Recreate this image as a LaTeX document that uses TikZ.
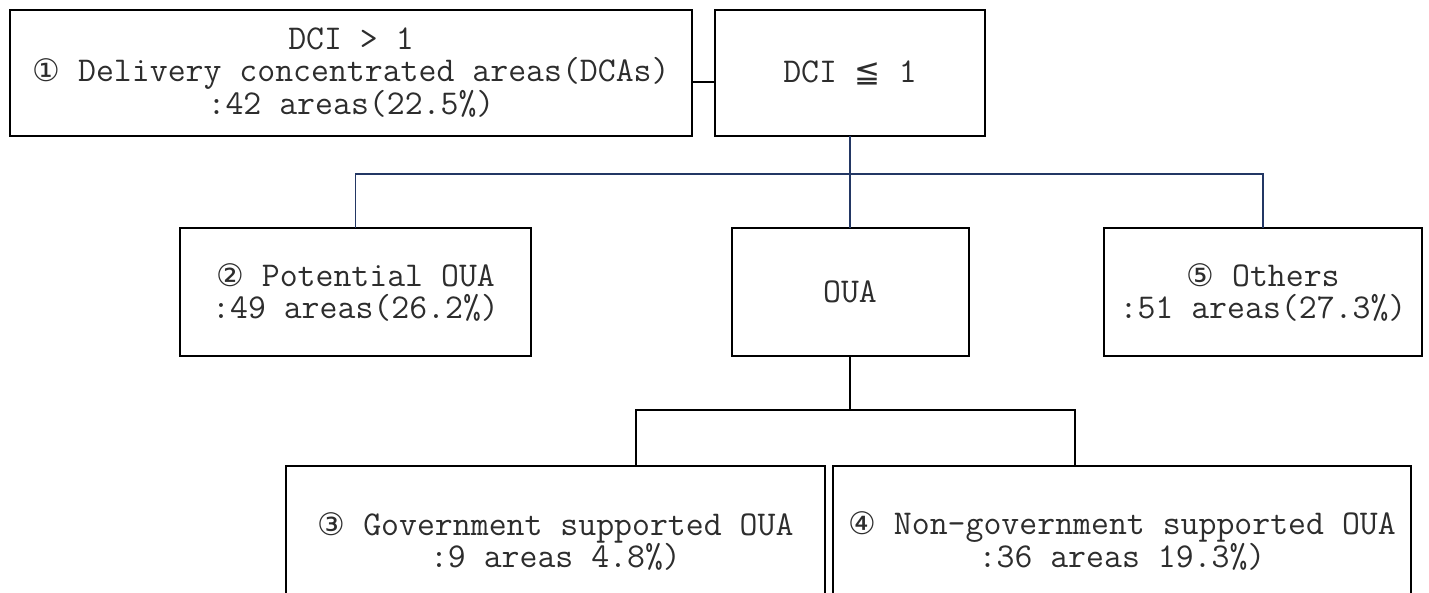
\documentclass[tikz,border=0pt]{standalone}
\usepackage{fontspec}
\setmainfont{Latin Modern Mono}
\newfontfamily\symfont{DejaVu Sans}
\definecolor{treeblue}{RGB}{35,55,100}
\definecolor{inkgray}{RGB}{45,45,45}
\newcommand{\circnum}[1]{{\symfont\fontsize{31}{32}\selectfont #1}}
\tikzset{
  box/.style={draw, line width=2pt, inner sep=0pt, outer sep=0pt, align=center,
    text=inkgray, font=\fontsize{34.8}{32}\selectfont},
  link/.style={line width=1.6pt},
}
\begin{document}
\begin{tikzpicture}[x=1pt,y=-1pt]
\clip (0,0) rectangle (1429,592);
\node[box, minimum width=682pt, minimum height=126pt] (dca) at (351,73) {DCI > 1\\ \circnum{①} Delivery concentrated areas(DCAs)\\ :42 areas(22.5\%)};
\node[box, minimum width=270pt, minimum height=126pt] (low) at (850,73) {DCI \circnum{≦} 1};
\node[box, minimum width=351pt, minimum height=128pt] (pot) at (355.5,292) {\circnum{②} Potential OUA\\ :49 areas(26.2\%)};
\node[box, minimum width=237pt, minimum height=128pt] (oua) at (850,292) {OUA};
\node[box, minimum width=318pt, minimum height=128pt] (oth) at (1263,292) {\circnum{⑤} Others\\ :51 areas(27.3\%)};
\node[box, minimum width=539pt, minimum height=150pt] (gov) at (555.5,541) {\circnum{③} Government supported OUA\\ :9 areas 4.8\%)};
\node[box, minimum width=578pt, minimum height=150pt] (ngov) at (1122,541) {\circnum{④} Non-government supported OUA\\ :36 areas 19.3\%)};
\coordinate (j1) at (850,174);
\coordinate (j2) at (850,410);
\draw[link] ([yshift=-9pt]dca.east) -- ([yshift=-9pt]low.west);
\draw[link, treeblue] (low.south) -- (oua.north);
\draw[link, treeblue] (pot.north) |- (j1) -| (oth.north);
\draw[link] (oua.south) -- (j2);
\draw[link] ([xshift=80.5pt]gov.north) |- (j2) -| ([xshift=-47pt]ngov.north);
\end{tikzpicture}
\end{document}
